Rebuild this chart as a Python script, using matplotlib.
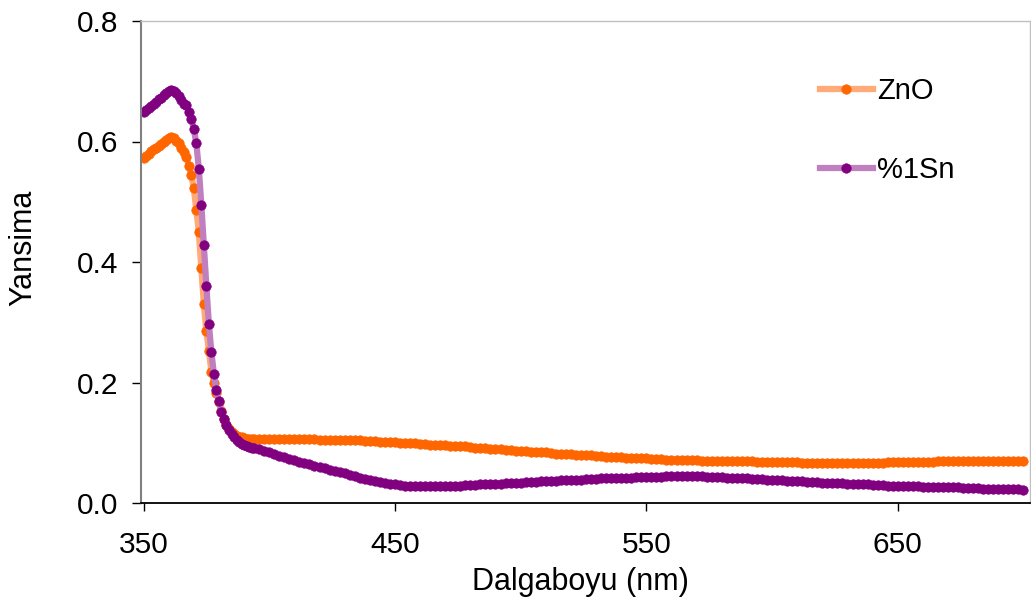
#!/usr/bin/env python3
"""
Yansima spektrumu: ZnO ve %1Sn katkili ZnO
"""

import numpy as np
import matplotlib.pyplot as plt

plt.rcParams['font.family'] = ['Liberation Sans', 'DejaVu Sans']

# Dalgaboyu: 350-394 nm arasi 1 nm, sonra 2 nm adim
wl_steep = list(range(350, 395))
wl_tail = list(range(396, 701, 2))
wavelength = np.array(wl_steep + wl_tail)

# ZnO yansima degerleri
zno_steep = [
    0.572, 0.576, 0.580, 0.584, 0.587, 0.590, 0.593, 0.596, 0.599, 0.602,
    0.605, 0.607, 0.605, 0.601, 0.597, 0.590, 0.583, 0.574, 0.560, 0.545,
    0.522, 0.487, 0.450, 0.390, 0.330, 0.285, 0.253, 0.218, 0.200, 0.183,
    0.168, 0.153, 0.140, 0.130, 0.123, 0.118, 0.115, 0.112, 0.110, 0.109,
    0.108, 0.107, 0.107, 0.106, 0.106,
]
zno_tail = [
    0.106, 0.106, 0.106, 0.106, 0.106, 0.106, 0.106, 0.106, 0.106, 0.106,
    0.106, 0.106, 0.105, 0.105, 0.105, 0.105, 0.105, 0.104, 0.104, 0.104,
    0.104, 0.103, 0.103, 0.103, 0.102, 0.102, 0.101, 0.101, 0.100, 0.100,
    0.099, 0.099, 0.098, 0.098, 0.097, 0.097, 0.096, 0.096, 0.095, 0.095,
    0.094, 0.094, 0.093, 0.092, 0.092, 0.091, 0.090, 0.090, 0.089, 0.088,
    0.088, 0.087, 0.087, 0.086, 0.085, 0.085, 0.084, 0.084, 0.083, 0.082,
    0.082, 0.081, 0.081, 0.080, 0.080, 0.079, 0.079, 0.078, 0.078, 0.077,
    0.077, 0.076, 0.076, 0.075, 0.075, 0.074, 0.074, 0.074, 0.073, 0.073,
    0.073, 0.072, 0.072, 0.072, 0.071, 0.071, 0.071, 0.071, 0.070, 0.070,
    0.070, 0.070, 0.070, 0.069, 0.069, 0.069, 0.069, 0.069, 0.069, 0.068,
    0.068, 0.068, 0.068, 0.068, 0.068, 0.068, 0.068, 0.068, 0.067, 0.067,
    0.067, 0.067, 0.067, 0.067, 0.067, 0.067, 0.067, 0.067, 0.067, 0.067,
    0.067, 0.067, 0.067, 0.067, 0.067, 0.068, 0.068, 0.068, 0.068, 0.068,
    0.068, 0.068, 0.068, 0.068, 0.068, 0.069, 0.069, 0.069, 0.069, 0.069,
    0.069, 0.069, 0.069, 0.069, 0.070, 0.070, 0.070, 0.070, 0.070, 0.070,
    0.070, 0.070, 0.070,
]

# %1Sn katkili ZnO yansima degerleri
sn_steep = [
    0.649, 0.653, 0.656, 0.659, 0.663, 0.666, 0.670, 0.673, 0.677, 0.680,
    0.684, 0.686, 0.684, 0.680, 0.675, 0.669, 0.663, 0.660, 0.649, 0.637,
    0.621, 0.597, 0.555, 0.495, 0.428, 0.360, 0.297, 0.250, 0.214, 0.187,
    0.169, 0.151, 0.139, 0.129, 0.121, 0.114, 0.109, 0.104, 0.101, 0.098,
    0.096, 0.094, 0.093, 0.092, 0.091,
]
sn_tail = [
    0.089, 0.087, 0.084, 0.081, 0.078, 0.076, 0.073, 0.071, 0.068, 0.066,
    0.064, 0.062, 0.060, 0.058, 0.055, 0.053, 0.051, 0.049, 0.046, 0.044,
    0.042, 0.040, 0.038, 0.036, 0.035, 0.033, 0.032, 0.031, 0.030, 0.029,
    0.029, 0.028, 0.028, 0.028, 0.028, 0.028, 0.028, 0.028, 0.029, 0.029,
    0.029, 0.030, 0.030, 0.030, 0.031, 0.031, 0.031, 0.032, 0.032, 0.033,
    0.033, 0.034, 0.034, 0.035, 0.035, 0.035, 0.036, 0.036, 0.037, 0.037,
    0.038, 0.038, 0.039, 0.039, 0.039, 0.040, 0.040, 0.040, 0.041, 0.041,
    0.041, 0.042, 0.042, 0.042, 0.042, 0.043, 0.043, 0.043, 0.043, 0.043,
    0.043, 0.044, 0.044, 0.044, 0.044, 0.044, 0.044, 0.044, 0.044, 0.043,
    0.043, 0.043, 0.043, 0.042, 0.042, 0.042, 0.041, 0.041, 0.040, 0.040,
    0.040, 0.039, 0.039, 0.038, 0.038, 0.037, 0.037, 0.036, 0.036, 0.035,
    0.035, 0.035, 0.034, 0.034, 0.033, 0.033, 0.033, 0.032, 0.032, 0.031,
    0.031, 0.031, 0.030, 0.030, 0.030, 0.029, 0.029, 0.029, 0.028, 0.028,
    0.028, 0.028, 0.027, 0.027, 0.027, 0.027, 0.026, 0.026, 0.026, 0.026,
    0.025, 0.025, 0.025, 0.025, 0.024, 0.024, 0.024, 0.024, 0.023, 0.023,
    0.023, 0.023, 0.022,
]

zno = np.array(zno_steep + zno_tail)
sn = np.array(sn_steep + sn_tail)

x_ticks = [350, 450, 550, 650]
y_ticks = [0.0, 0.2, 0.4, 0.6, 0.8]

fig = plt.figure(figsize=(10.31, 6.05), dpi=100)
ax = fig.add_axes([141 / 1031, 1 - 503 / 605, 889 / 1031, 482 / 605])

ax.plot(wavelength, zno, '-', color='#FFAA77', linewidth=4.5,
        marker='o', markersize=6.8, markerfacecolor='#FF6600',
        markeredgecolor='#FF6600', markeredgewidth=0.5, label='ZnO')
ax.plot(wavelength, sn, '-', color='#C080C0', linewidth=4.5,
        marker='o', markersize=6.8, markerfacecolor='#800080',
        markeredgecolor='#800080', markeredgewidth=0.5, label='%1Sn')

ax.set_xlim(349.0, 702.6)
ax.set_ylim(0, 0.8)
ax.set_xticks(x_ticks)
ax.set_yticks(y_ticks)
ax.set_yticklabels([f'{v:.1f}' for v in y_ticks])

ax.spines['left'].set_color('#808080')
ax.spines['left'].set_linewidth(1.5)
ax.spines['bottom'].set_color('black')
ax.spines['bottom'].set_linewidth(1.3)
ax.spines['top'].set_color('#C0C0C0')
ax.spines['top'].set_linewidth(1.0)
ax.spines['right'].set_color('#C0C0C0')
ax.spines['right'].set_linewidth(1.0)

ax.tick_params(axis='y', direction='out', length=6.5, width=1, pad=10,
               labelsize=21.5, color='black')
ax.tick_params(axis='x', direction='out', length=6, width=1, pad=14,
               labelsize=21.5, color='black')

fig.text(580.5 / 1031, 1 - 582 / 605, 'Dalgaboyu (nm)', ha='center',
         va='center', fontsize=22)
fig.text(23 / 1031, 1 - 248 / 605, 'Yansima', ha='center', va='center',
         rotation=90, fontsize=22)

ax.legend(loc='upper left', bbox_to_anchor=(820 / 1031, 1 - 77 / 605),
          bbox_transform=fig.transFigure, frameon=False, fontsize=21,
          handlelength=1.8, handletextpad=0.15, labelspacing=1.75,
          borderpad=0, borderaxespad=0)

fig.savefig('out.png', dpi=100)
